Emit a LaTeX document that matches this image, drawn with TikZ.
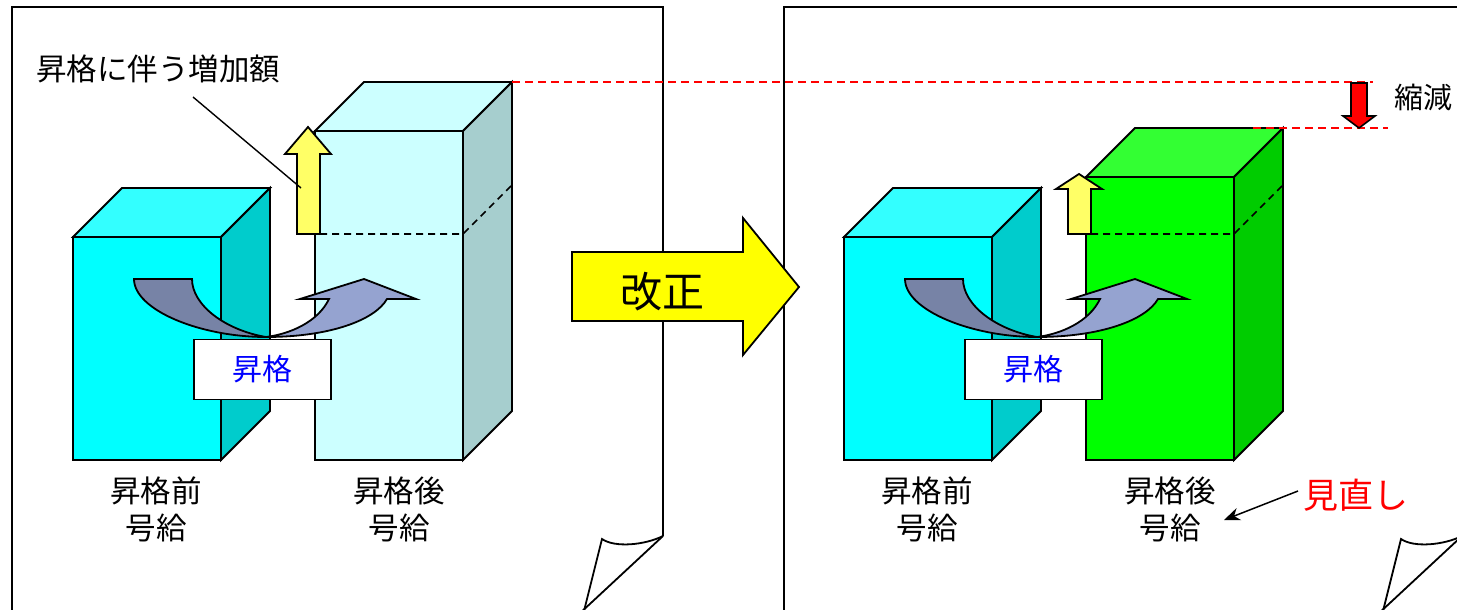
\documentclass[tikz,border=0pt]{standalone}
\usepackage{fontspec}
\newfontfamily\jp{Noto Sans CJK JP}
\usetikzlibrary{arrows.meta}
\definecolor{cyF}{HTML}{00FFFF}
\definecolor{cyT}{HTML}{33FFFF}
\definecolor{cyS}{HTML}{00CCCC}
\definecolor{lcF}{HTML}{CCFFFF}
\definecolor{lcS}{HTML}{A6CECE}
\definecolor{grF}{HTML}{00FF00}
\definecolor{grT}{HTML}{33FF33}
\definecolor{grS}{HTML}{00CC00}
\definecolor{ylA}{HTML}{FFFF66}
\definecolor{ylB}{HTML}{FFFF00}
\definecolor{arD}{HTML}{7783A6}
\definecolor{arL}{HTML}{95A3D0}
\begin{document}
\begin{tikzpicture}[x=1pt,y=-1pt,line join=miter,
  edge/.style={draw=black,line width=1.8pt},
  dashln/.style={black,line width=1.6pt,dash pattern=on 7pt off 5pt},
  reddash/.style={red,line width=1.6pt,dash pattern=on 8pt off 5pt},
  lbl/.style={font=\jp\fontsize{30.5}{37}\selectfont,align=center,inner sep=0pt},
  tagbox/.style={draw=black,line width=1.8pt,fill=white,minimum width=137pt,minimum height=60pt,inner sep=0pt,font=\jp\fontsize{30}{34}\selectfont,text=blue}]
\useasboundingbox (0,0) rectangle (1457,610);
\clip (0,0) rectangle (1457,610);
% pages
\draw[edge] (12,620) -- (12,7) -- (663,7) -- (663,536);
\draw[edge] (663,536) .. controls (645,545) and (615,548) .. (602,539) -- (583,615);
\draw[edge] (663,536) -- (578,615);
\draw[edge] (784,620) -- (784,7) -- (1470,7);
\draw[edge] (1462,536) .. controls (1444,545) and (1414,548) .. (1401,539) -- (1382,615);
\draw[edge] (1462,536) -- (1377,615);
% ---------- left panel ----------
\filldraw[edge,fill=cyF] (73,237) rectangle (221,460);
\filldraw[edge,fill=cyT] (73,237) -- (122,188) -- (270,188) -- (221,237) -- cycle;
\filldraw[edge,fill=cyS] (221,237) -- (270,188) -- (270,411) -- (221,460) -- cycle;
\filldraw[edge,fill=lcF] (315,131) rectangle (463,460);
\filldraw[edge,fill=lcF] (315,131) -- (364,82) -- (512,82) -- (463,131) -- cycle;
\filldraw[edge,fill=lcS] (463,131) -- (512,82) -- (512,411) -- (463,460) -- cycle;
\draw[dashln] (320,234) -- (463,234) -- (512,185);
\filldraw[edge,fill=ylA] (297,234) -- (297,154) -- (285,154) -- (308,127) -- (331,154) -- (320,154) -- (320,234) -- cycle;
\coordinate (leadA) at (193,97);
\coordinate (leadB) at (301,188);
\node[lbl,anchor=west] (incr) at (36,69) {昇格に伴う増加額};
\draw[black,line width=1.4pt] (leadA) -- (leadB);
\filldraw[edge,fill=arD] (134,279) -- (192,279) .. controls (192,305) and (225,330) .. (266,337) .. controls (200,337) and (134,310) .. (134,279) -- cycle;
\filldraw[edge,fill=arL] (266,337) .. controls (330,337) and (375,320) .. (387,299) -- (416,299) -- (364,279) -- (300,299) -- (329,299) .. controls (318,322) and (290,334) .. (266,337) -- cycle;
\node[tagbox] (tagL) at (262.5,369.5) {昇格};
\node[lbl] (beforeL) at (156,509) {昇格前\\号給};
\node[lbl] (afterL) at (399,509) {昇格後\\号給};
% ---------- revision arrow ----------
\filldraw[edge,fill=ylB] (572,252) -- (743,252) -- (743,218) -- (799,287) -- (743,355) -- (743,321) -- (572,321) -- cycle;
\node[font=\jp\fontsize{42}{42}\selectfont,inner sep=0pt] (kaisei) at (662,292) {改正};
% ---------- right panel ----------
\filldraw[edge,fill=cyF] (844,237) rectangle (992,460);
\filldraw[edge,fill=cyT] (844,237) -- (893,188) -- (1041,188) -- (992,237) -- cycle;
\filldraw[edge,fill=cyS] (992,237) -- (1041,188) -- (1041,411) -- (992,460) -- cycle;
\filldraw[edge,fill=grF] (1086,177) rectangle (1234,460);
\filldraw[edge,fill=grT] (1086,177) -- (1135,128) -- (1283,128) -- (1234,177) -- cycle;
\filldraw[edge,fill=grS] (1234,177) -- (1283,128) -- (1283,411) -- (1234,460) -- cycle;
\draw[dashln] (1091,234) -- (1234,234) -- (1283,185);
\filldraw[edge,fill=ylA] (1068,234) -- (1068,189) -- (1056,189) -- (1079,174) -- (1102,189) -- (1091,189) -- (1091,234) -- cycle;
\filldraw[edge,fill=arD] (905,279) -- (963,279) .. controls (963,305) and (996,330) .. (1037,337) .. controls (971,337) and (905,310) .. (905,279) -- cycle;
\filldraw[edge,fill=arL] (1037,337) .. controls (1101,337) and (1146,320) .. (1158,299) -- (1187,299) -- (1135,279) -- (1071,299) -- (1100,299) .. controls (1089,322) and (1061,334) .. (1037,337) -- cycle;
\node[tagbox] (tagR) at (1033.5,369.5) {昇格};
\node[lbl] (beforeR) at (927,509) {昇格前\\号給};
\node[lbl] (afterR) at (1170,509) {昇格後\\号給};
% ---------- reduction ----------
\coordinate (oldtop) at (512,82);
\coordinate (oldend) at (1373,82);
\coordinate (newtop) at (1253,128);
\coordinate (newend) at (1388,128);
\draw[reddash] (oldtop) -- (oldend);
\draw[reddash] (newtop) -- (newend);
\filldraw[edge,line width=1.6pt,fill=red] (1351,83) -- (1367,83) -- (1367,116) -- (1375,116) -- (1359,128) -- (1343,116) -- (1351,116) -- cycle;
\node[lbl,anchor=west,font=\jp\fontsize{29}{29}\selectfont] (shukugen) at (1394,97) {縮減};
\node[lbl,anchor=west,text=red,font=\jp\fontsize{35}{35}\selectfont] (minaoshi) at (1303,495) {見直し};
\coordinate (mA) at (1298,491);
\coordinate (mB) at (1224,520);
\draw[black,line width=1.5pt,-{Stealth[length=16pt,width=13pt]}] (mA) -- (mB);
\end{tikzpicture}
\end{document}
